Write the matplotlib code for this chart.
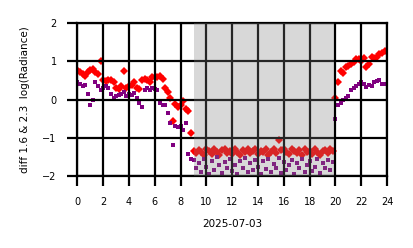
import numpy as np
import matplotlib
matplotlib.use("Agg")
import matplotlib.pyplot as plt

# hours of the day (UTC), one sample every 12 minutes
hours = np.arange(0, 24, 0.2)

# diff 1.6 um band (red diamonds)
diff_16 = [
    0.78, 0.72, 0.68, 0.62, 0.72, 0.78, 0.80, 0.72, 0.68, 1.00,
    0.50, 0.48, 0.52, 0.50, 0.45, 0.30, 0.28, 0.35, 0.75, 0.30,
    0.35, 0.38, 0.45, 0.30, 0.28, 0.50, 0.55, 0.50, 0.45, 0.58,
    0.60, 0.60, 0.62, 0.55, 0.30, 0.20, 0.05, -0.55, -0.12, -0.20,
    -0.15, -0.05, -0.25, -0.30, -0.88, -1.35, -1.40, -1.32, -1.38, -1.45,
    -1.30, -1.35, -1.42, -1.30, -1.38, -1.45, -1.33, -1.28, -1.40, -1.35,
    -1.42, -1.30, -1.36, -1.45, -1.32, -1.38, -1.30, -1.40, -1.35, -1.28,
    -1.42, -1.35, -1.38, -1.30, -1.45, -1.36, -1.30, -1.40, -1.05, -1.32,
    -1.28, -1.38, -1.42, -1.30, -1.35, -1.40, -1.33, -1.45, -1.30, -1.38,
    -1.35, -1.42, -1.30, -1.38, -1.45, -1.35, -1.32, -1.40, -1.28, -1.35,
    0.05, 0.45, 0.75, 0.70, 0.85, 0.88, 0.92, 0.97, 1.05, 1.05,
    1.00, 1.08, 0.85, 0.92, 1.10, 1.08, 1.12, 1.18, 1.22, 1.27,
]

# diff 2.3 um band (purple squares)
diff_23 = [
    0.45, 0.42, 0.35, 0.38, 0.15, -0.15, 0.00, 0.45, 0.35, 0.25,
    0.30, 0.35, 0.30, 0.15, 0.05, 0.10, 0.12, 0.15, 0.20, 0.10,
    0.15, 0.12, 0.18, 0.05, -0.10, -0.20, 0.25, 0.30, 0.25, 0.30,
    0.28, 0.25, -0.10, -0.15, -0.15, -0.35, -0.60, -1.20, -0.68, -0.72,
    -0.70, -0.80, -0.60, -1.42, -1.55, -1.58, -1.80, -1.65, -1.90, -1.55,
    -1.75, -1.95, -1.60, -1.85, -1.50, -1.70, -1.92, -1.62, -1.80, -1.55,
    -1.88, -1.70, -1.95, -1.60, -1.78, -1.52, -1.90, -1.65, -1.85, -1.58,
    -1.75, -1.95, -1.60, -1.82, -1.55, -1.90, -1.68, -1.78, -1.52, -1.92,
    -1.62, -1.85, -1.70, -1.58, -1.95, -1.65, -1.80, -1.55, -1.90, -1.72,
    -1.60, -1.88, -1.75, -1.55, -1.92, -1.65, -1.80, -1.58, -1.85, -1.62,
    -0.50, -0.15, -0.08, 0.00, 0.05, 0.10, 0.25, 0.30, 0.35, 0.42,
    0.45, 0.40, 0.33, 0.38, 0.35, 0.45, 0.48, 0.50, 0.40, 0.42,
]

night_start, night_end = 9.0, 19.9

fig = plt.figure(figsize=(4.14, 2.48), dpi=100)
ax = fig.add_axes([0.187, 0.29, 0.748, 0.617])

ax.plot(hours, diff_16, "D", color="red", markersize=3.8, markeredgewidth=0, zorder=2)
ax.plot(hours, diff_23, "s", color="purple", markersize=2.4, markeredgewidth=0, zorder=2)
ax.axvspan(night_start, night_end, color="gray", alpha=0.3, lw=0, zorder=3)

ax.set_xlim(0, 24)
ax.set_ylim(-2, 2)
ax.set_xticks(range(0, 25, 2))
ax.set_yticks(range(-2, 3))
ax.grid(True, color="black", linewidth=1.6, zorder=4)
ax.set_axisbelow(False)
for s in ax.spines.values():
    s.set_linewidth(1.6)
ax.tick_params(labelsize=7, width=1.6, length=7, pad=8)
ax.set_xlabel("2025-07-03", fontsize=7.5, labelpad=9)
ax.set_ylabel("diff 1.6 & 2.3  log(Radiance)", fontsize=7.5, labelpad=9)

fig.savefig("out.png", dpi=100)
